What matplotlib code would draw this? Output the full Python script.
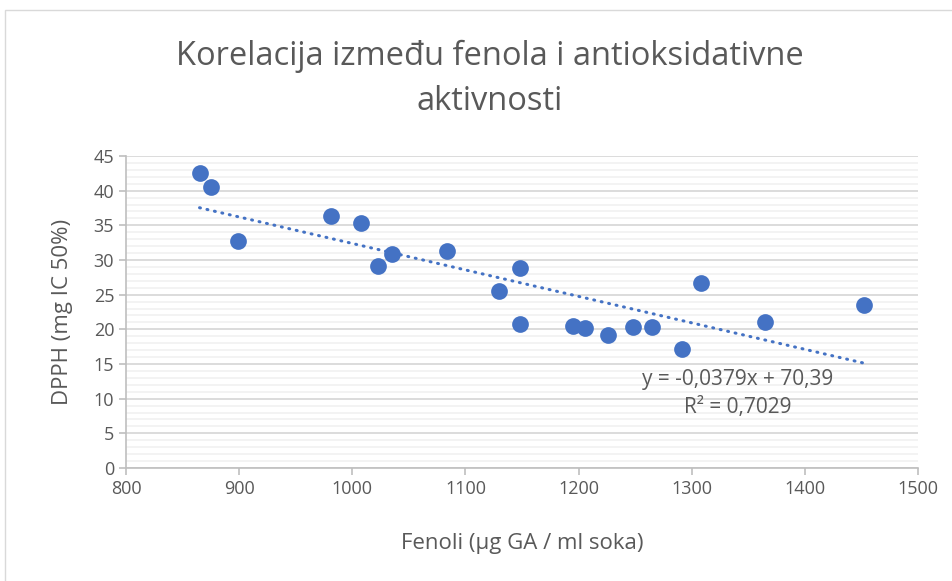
import numpy as np
import matplotlib.pyplot as plt
from matplotlib.patches import Rectangle
from matplotlib.ticker import MultipleLocator

# fenoli (ug GA / ml soka) vs DPPH (mg IC 50%)
fenoli = [865, 875, 899, 981, 1008, 1023, 1035, 1084, 1130, 1148,
          1148, 1195, 1206, 1226, 1248, 1265, 1291, 1308, 1365, 1452]
dpph = [42.5, 40.5, 32.7, 36.3, 35.3, 29.1, 30.9, 31.3, 25.5, 28.8,
        20.8, 20.5, 20.2, 19.2, 20.3, 20.3, 17.2, 26.7, 21.1, 23.5]

gray = "#595959"
blue = "#4472C4"
plt.rcParams['font.family'] = ['Open Sans', 'DejaVu Sans']

fig = plt.figure(figsize=(9.53, 5.81), dpi=100)
fig.patches.append(Rectangle((5/953, -0.1), 1.2, 0.1 + 1 - 10/581, transform=fig.transFigure,
                             fill=False, edgecolor="#D9D9D9", lw=1))
ax = fig.add_axes([126/953, 113/581, 792/953, 312/581])

ax.scatter(fenoli, dpph, s=145, color=blue, zorder=3, linewidths=0)

# linear trendline
k, n = np.polyfit(fenoli, dpph, 1)
xs = np.array([min(fenoli), max(fenoli)])
ax.plot(xs, k * xs + n, color=blue, lw=2.2, linestyle=(0, (0.3, 2.2)),
        dash_capstyle='round', zorder=2)
ax.text(1341, 10.8, "y = -0,0379x + 70,39\nR² = 0,7029", ha='center', va='center',
        fontsize=15, color=gray, linespacing=1.45)

ax.set_xlim(800, 1500)
ax.set_ylim(0, 45)
ax.xaxis.set_major_locator(MultipleLocator(100))
ax.yaxis.set_major_locator(MultipleLocator(5))
ax.yaxis.set_minor_locator(MultipleLocator(1))
ax.grid(which='major', axis='y', color="#D9D9D9", lw=1.3, zorder=0)
ax.grid(which='minor', axis='y', color="#F2F2F2", lw=1.3, zorder=0)
ax.set_axisbelow(True)
for s in ['top', 'right']:
    ax.spines[s].set_visible(False)
for s in ['left', 'bottom']:
    ax.spines[s].set_color("#BFBFBF")
    ax.spines[s].set_linewidth(1.2)
ax.tick_params(which='major', length=5, color="#BFBFBF", labelcolor=gray, labelsize=13, width=1.2)
ax.tick_params(which='minor', length=0)

ax.set_xlabel("Fenoli (µg GA / ml soka)", fontsize=16, color=gray, labelpad=25)
ax.set_ylabel("DPPH (mg IC 50%)", fontsize=16, color=gray, labelpad=15)
fig.text(490/953, 1 - 79/581, "Korelacija između fenola i antioksidativne\naktivnosti",
         ha='center', va='center', fontsize=23.5, color=gray, linespacing=1.45)

fig.savefig("out.png", dpi=100)
